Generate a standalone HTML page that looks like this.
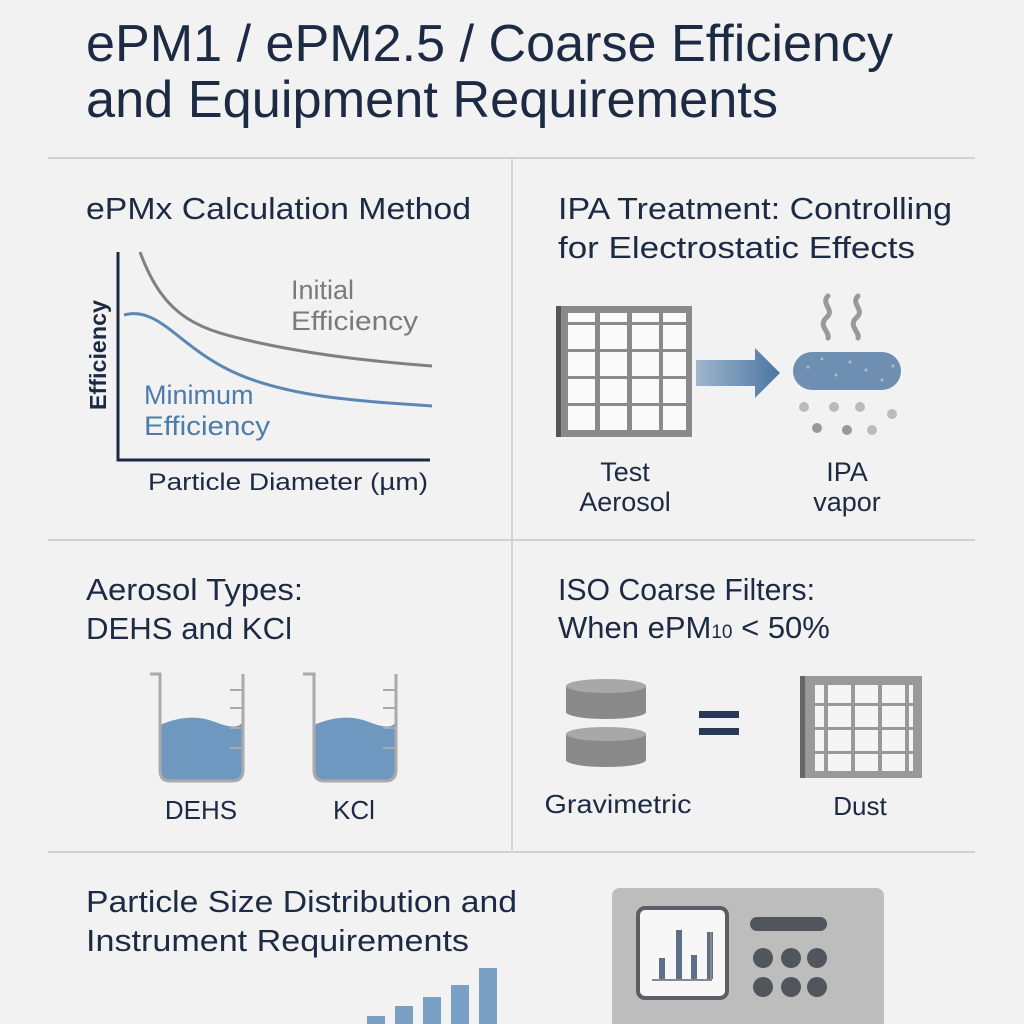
<!DOCTYPE html>
<html><head><style>
body{margin:0;width:1024px;height:1024px;background:#f2f2f2;overflow:hidden;font-family:"Liberation Sans",sans-serif;color:#1c2a44}
</style></head><body>
<svg width="1024" height="1024" xmlns="http://www.w3.org/2000/svg" style="position:absolute;left:0;top:0">
<defs>
<linearGradient id="ar" x1="0" x2="1"><stop offset="0" stop-color="#9fb6cc"/><stop offset="1" stop-color="#4a76a3"/></linearGradient>
</defs>
<g font-family="Liberation Sans, sans-serif" fill="#1c2a44">
<text x="86" y="61" font-size="52" textLength="807" lengthAdjust="spacingAndGlyphs">ePM1 / ePM2.5 / Coarse Efficiency</text>
<text x="86" y="117" font-size="52" textLength="692" lengthAdjust="spacingAndGlyphs">and Equipment Requirements</text>
<g stroke="#d2d2d2" stroke-width="2"><line x1="48" y1="158" x2="975" y2="158"/><line x1="512" y1="158" x2="512" y2="850"/><line x1="48" y1="540" x2="975" y2="540"/><line x1="48" y1="852" x2="975" y2="852"/></g>
<text x="86" y="219" font-size="31" textLength="385" lengthAdjust="spacingAndGlyphs">ePMx Calculation Method</text>
<text x="558" y="219" font-size="31" textLength="394" lengthAdjust="spacingAndGlyphs">IPA Treatment: Controlling</text>
<text x="558" y="258" font-size="31" textLength="357" lengthAdjust="spacingAndGlyphs">for Electrostatic Effects</text>
<!-- chart -->
<path d="M118 252 V460 H430" fill="none" stroke="#1c2a44" stroke-width="3"/>
<path d="M140 252 C165 320 200 330 260 343 S380 362 432 366" fill="none" stroke="#808080" stroke-width="3"/>
<path d="M124 315 C160 305 180 350 240 375 S380 402 432 406" fill="none" stroke="#5a87b3" stroke-width="3"/>
<text x="291" y="299" font-size="27" fill="#7a7a7a">Initial</text>
<text x="291" y="330" font-size="27" fill="#7a7a7a" textLength="127" lengthAdjust="spacingAndGlyphs">Efficiency</text>
<text x="144" y="404" font-size="27" fill="#4d7cab">Minimum</text>
<text x="144" y="435" font-size="27" fill="#4d7cab" textLength="126" lengthAdjust="spacingAndGlyphs">Efficiency</text>
<text transform="translate(106,355) rotate(-90)" text-anchor="middle" font-size="23" font-weight="bold" textLength="110" lengthAdjust="spacingAndGlyphs">Efficiency</text>
<text x="148" y="490" font-size="24" textLength="280" lengthAdjust="spacingAndGlyphs">Particle Diameter  (µm)</text>
<!-- filter -->
<rect x="556" y="306" width="136" height="131" fill="#8a8a8a"/>
<rect x="556" y="306" width="5" height="131" fill="#555"/>
<g fill="#fafafa">
<rect x="568" y="313" width="27" height="9"/><rect x="600" y="313" width="27" height="9"/><rect x="632" y="313" width="27" height="9"/><rect x="663" y="313" width="23" height="9"/>
<rect x="568" y="325" width="27" height="24"/><rect x="600" y="325" width="27" height="24"/><rect x="632" y="325" width="27" height="24"/><rect x="663" y="325" width="23" height="24"/>
<rect x="568" y="352" width="27" height="24"/><rect x="600" y="352" width="27" height="24"/><rect x="632" y="352" width="27" height="24"/><rect x="663" y="352" width="23" height="24"/>
<rect x="568" y="379" width="27" height="24"/><rect x="600" y="379" width="27" height="24"/><rect x="632" y="379" width="27" height="24"/><rect x="663" y="379" width="23" height="24"/>
<rect x="568" y="406" width="27" height="24"/><rect x="600" y="406" width="27" height="24"/><rect x="632" y="406" width="27" height="24"/><rect x="663" y="406" width="23" height="24"/>
</g>
<path d="M696 360 H755 V348 L780 373 L755 398 V386 H696 Z" fill="url(#ar)"/>
<rect x="793" y="352" width="108" height="38" rx="19" fill="#6e8fb2"/>
<g fill="#a9bdd2"><circle cx="808" cy="367" r="1.5"/><circle cx="822" cy="359" r="1.5"/><circle cx="836" cy="375" r="1.5"/><circle cx="850" cy="362" r="1.5"/><circle cx="866" cy="370" r="1.5"/><circle cx="882" cy="380" r="1.5"/><circle cx="893" cy="366" r="1.5"/></g>
<path d="M828 296 c-8 8 8 14 -2 22 c-8 8 4 14 2 20 M858 296 c-8 8 8 14 -2 22 c-8 8 4 14 2 20" fill="none" stroke="#999" stroke-width="5" stroke-linecap="round"/>
<g fill="#bbb"><circle cx="804" cy="407" r="5"/><circle cx="834" cy="407" r="5"/><circle cx="860" cy="407" r="5"/><circle cx="892" cy="414" r="5"/><circle cx="817" cy="428" r="5" fill="#999"/><circle cx="847" cy="430" r="5" fill="#999"/><circle cx="872" cy="430" r="5"/></g>
<text x="625" y="481" font-size="27" text-anchor="middle">Test</text>
<text x="625" y="511" font-size="27" text-anchor="middle">Aerosol</text>
<text x="847" y="481" font-size="27" text-anchor="middle">IPA</text>
<text x="847" y="511" font-size="27" text-anchor="middle">vapor</text>
<!-- aerosol types -->
<text x="86" y="600" font-size="31" textLength="217" lengthAdjust="spacingAndGlyphs">Aerosol Types:</text>
<text x="86" y="639" font-size="31" textLength="206" lengthAdjust="spacingAndGlyphs">DEHS and KCl</text>
<g>
<path d="M160 725 Q190 712 215 722 T243 720 V770 Q243 781 232 781 H170 Q160 781 160 770 Z" fill="#6f98c0"/>
<path d="M150 674 H160 V770 Q160 781 170 781 H232 Q243 781 243 770 V674" fill="none" stroke="#aaa" stroke-width="3"/>
<path d="M230 690 H243 M230 708 H243 M230 728 H243 M230 748 H243" stroke="#aaa" stroke-width="2"/>
<path d="M314 725 Q344 712 369 722 T396 720 V770 Q396 781 385 781 H324 Q314 781 314 770 Z" fill="#6f98c0"/>
<path d="M303 674 H314 V770 Q314 781 324 781 H385 Q396 781 396 770 V674" fill="none" stroke="#aaa" stroke-width="3"/>
<path d="M383 690 H396 M383 708 H396 M383 728 H396 M383 748 H396" stroke="#aaa" stroke-width="2"/>
</g>
<text x="201" y="819" font-size="26" text-anchor="middle">DEHS</text>
<text x="354" y="819" font-size="26" text-anchor="middle">KCl</text>
<!-- ISO coarse -->
<text x="558" y="600" font-size="31" textLength="257" lengthAdjust="spacingAndGlyphs">ISO Coarse Filters:</text>
<text x="558" y="638" font-size="31">When ePM<tspan font-size="19">10</tspan> &lt; 50%</text>
<g fill="#8a8a8a"><rect x="566" y="686" width="80" height="26"/><ellipse cx="606" cy="712" rx="40" ry="7"/><ellipse cx="606" cy="686" rx="40" ry="7" fill="#a8a8a8"/>
<rect x="566" y="734" width="80" height="26"/><ellipse cx="606" cy="760" rx="40" ry="7"/><ellipse cx="606" cy="734" rx="40" ry="7" fill="#a8a8a8"/></g>
<rect x="699" y="711" width="40" height="7" fill="#2a3a55"/><rect x="699" y="728" width="40" height="7" fill="#2a3a55"/>
<rect x="800" y="676" width="122" height="102" fill="#999"/><rect x="800" y="676" width="5" height="102" fill="#666"/>
<g fill="#f5f5f5">
<rect x="815" y="685" width="9" height="18"/><rect x="828" y="685" width="23" height="18"/><rect x="855" y="685" width="23" height="18"/><rect x="882" y="685" width="23" height="18"/><rect x="909" y="685" width="4" height="18"/>
<rect x="815" y="706" width="9" height="21"/><rect x="828" y="706" width="23" height="21"/><rect x="855" y="706" width="23" height="21"/><rect x="882" y="706" width="23" height="21"/><rect x="909" y="706" width="4" height="21"/>
<rect x="815" y="730" width="9" height="21"/><rect x="828" y="730" width="23" height="21"/><rect x="855" y="730" width="23" height="21"/><rect x="882" y="730" width="23" height="21"/><rect x="909" y="730" width="4" height="21"/>
<rect x="815" y="754" width="9" height="17"/><rect x="828" y="754" width="23" height="17"/><rect x="855" y="754" width="23" height="17"/><rect x="882" y="754" width="23" height="17"/><rect x="909" y="754" width="4" height="17"/>
</g>
<text x="618" y="813" font-size="26" text-anchor="middle" textLength="147" lengthAdjust="spacingAndGlyphs">Gravimetric</text>
<text x="860" y="815" font-size="26" text-anchor="middle">Dust</text>
<!-- bottom -->
<text x="86" y="912" font-size="31" textLength="431" lengthAdjust="spacingAndGlyphs">Particle Size Distribution and</text>
<text x="86" y="951" font-size="31" textLength="383" lengthAdjust="spacingAndGlyphs">Instrument Requirements</text>
<g fill="#7aa0c6"><rect x="367" y="1016" width="18" height="10"/><rect x="395" y="1006" width="18" height="20"/><rect x="423" y="997" width="18" height="30"/><rect x="451" y="985" width="18" height="40"/><rect x="479" y="968" width="18" height="60"/></g>
<rect x="612" y="888" width="272" height="150" rx="8" fill="#bdbdbd"/>
<rect x="638" y="908" width="89" height="90" rx="7" fill="#f7f7f7" stroke="#5a5f66" stroke-width="4"/>
<g fill="#5e7088"><rect x="659" y="958" width="6" height="21"/><rect x="676" y="930" width="6" height="49"/><rect x="691" y="955" width="6" height="24"/><rect x="707" y="932" width="6" height="47"/></g>
<path d="M652 980 H711 V932" fill="none" stroke="#888" stroke-width="2"/>
<rect x="750" y="917" width="77" height="14" rx="7" fill="#51565c"/>
<g fill="#51565c"><circle cx="763" cy="958" r="10"/><circle cx="791" cy="958" r="10"/><circle cx="817" cy="958" r="10"/><circle cx="763" cy="987" r="10"/><circle cx="791" cy="987" r="10"/><circle cx="817" cy="987" r="10"/></g>
</g>
</svg>
</body></html>
